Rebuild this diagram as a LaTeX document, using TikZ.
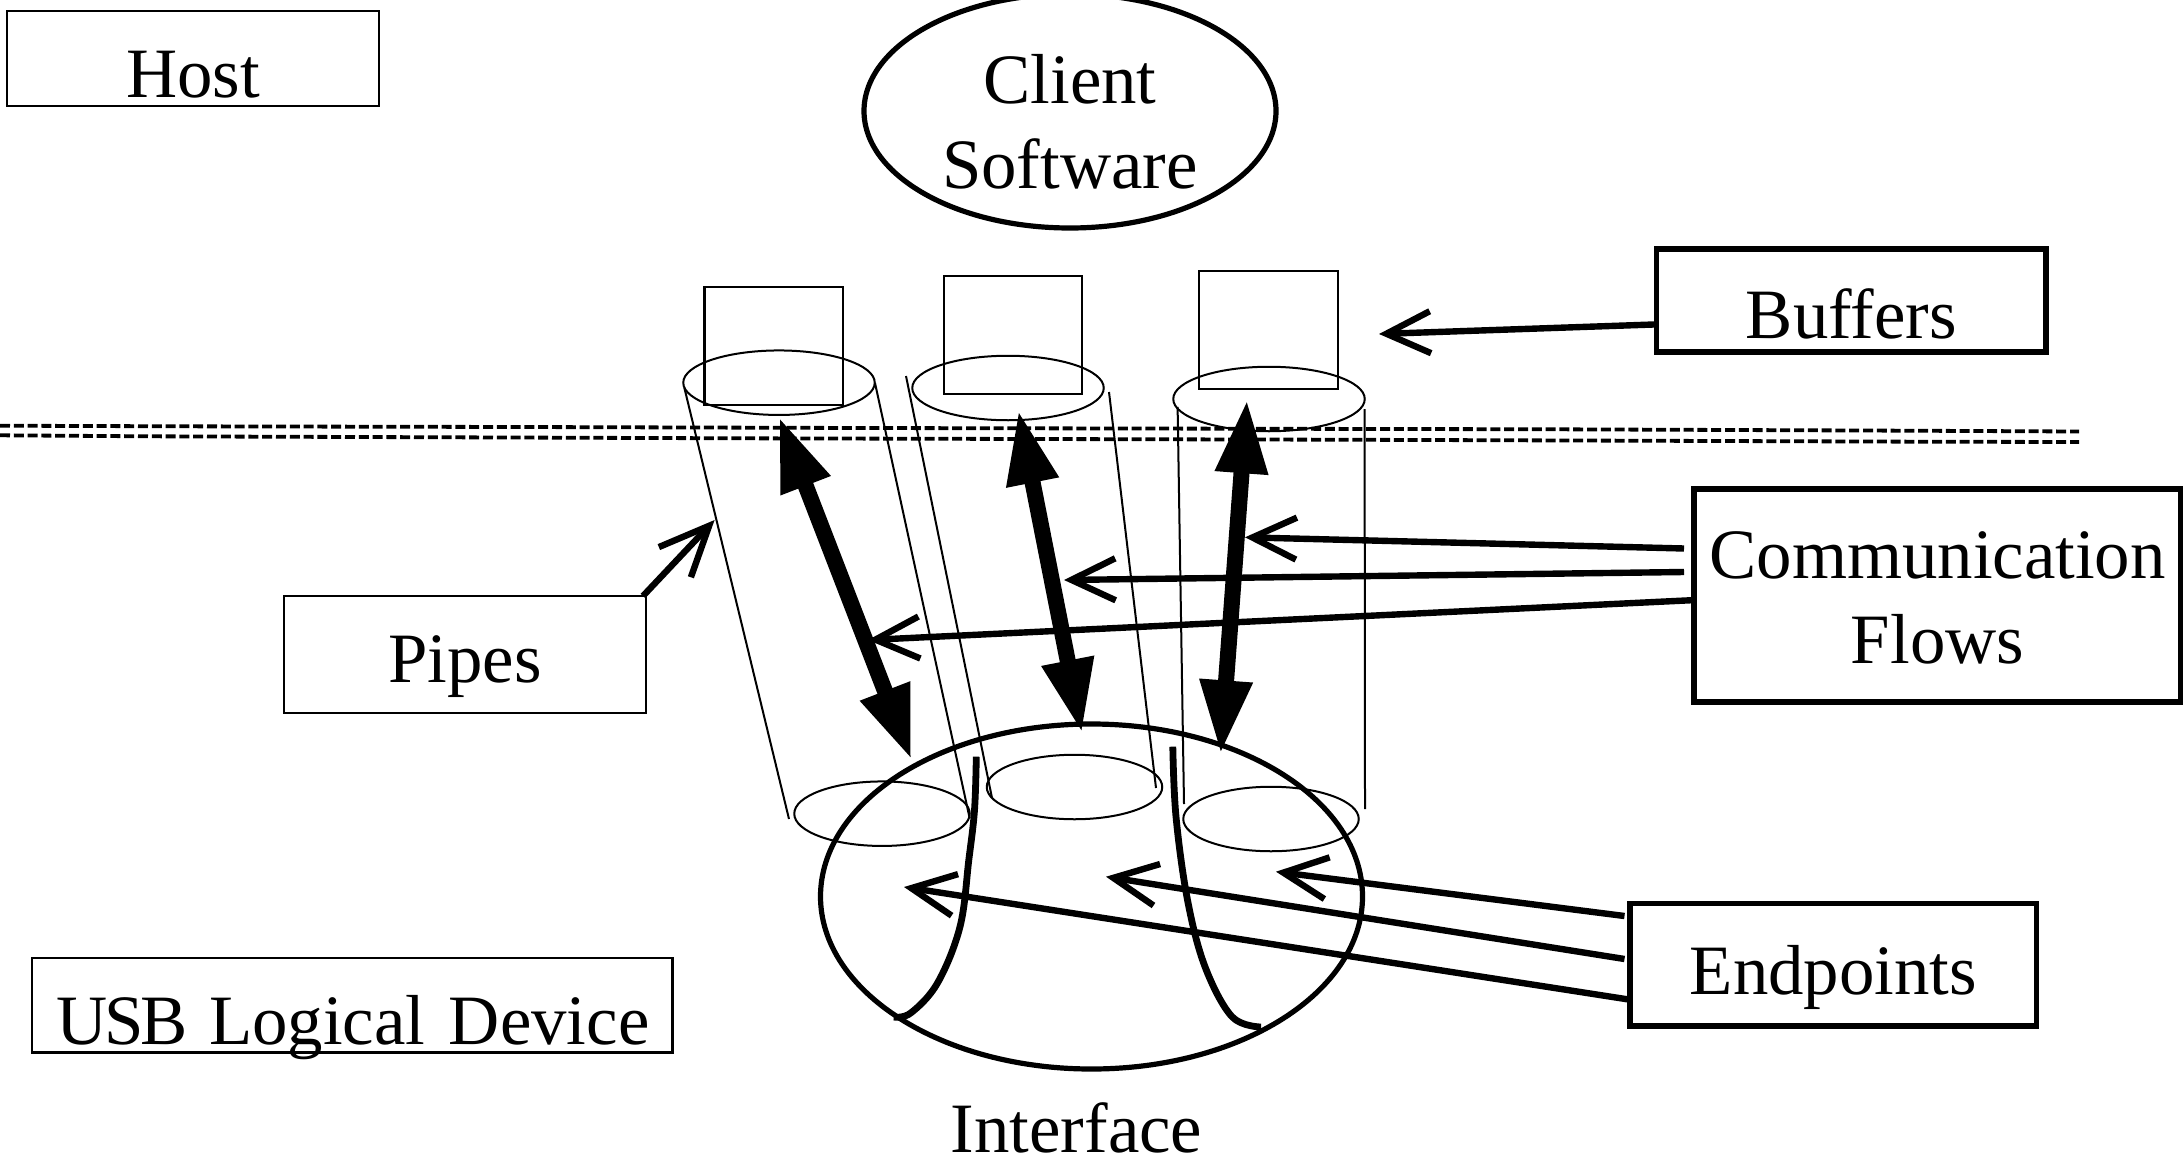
\documentclass[tikz,border=0pt]{standalone}
\usepackage{fontspec}
\setmainfont{Liberation Serif}
\usetikzlibrary{arrows.meta,shapes.geometric}
\tikzset{
  every node/.style={font=\fontsize{35.4}{42.5}\selectfont},
  thinbox/.style={draw,line width=1.1pt,inner sep=0pt,outer sep=0pt,anchor=north west,align=center},
  thickbox/.style={thinbox,line width=2.8pt},
  bufbox/.style={draw,line width=1.1pt,inner sep=0pt,outer sep=0pt,anchor=north west,minimum width=69.3pt,minimum height=59pt},
  thinell/.style={draw,ellipse,line width=1pt,inner sep=0pt,outer sep=0pt,minimum width=191.5*.5pt,minimum height=64.5*.5pt},
  lowell/.style={thinell,minimum width=175.5*.5pt},
  bigell/.style={draw,ellipse,line width=2.6pt,inner sep=0pt,outer sep=0pt,align=center},
  wall/.style={line width=1pt},
  sepline/.style={line width=1.9pt,dash pattern=on 5pt off 1.9pt},
  flow/.style={line width=8pt,{Triangle[length=37pt,width=24.5pt]}-{Triangle[length=37pt,width=24.5pt]}},
  pointer/.style={line width=3.2pt,-{Straight Barb[length=22pt,width=21pt]}},
  border/.style={line width=3.4pt},
}
\begin{document}
\begin{tikzpicture}[x=.5pt,y=-.5pt]
\useasboundingbox (0,0) rectangle (2183,1156);

% label boxes
\node[thinbox,text width=186pt,text height=43.25pt,text depth=4.25pt] (host) at (7,11) {Host};
\node[thinbox,text width=181pt,text height=43pt,text depth=15.5pt] (pipes) at (284,596) {Pipes};
\node[thinbox,text width=320.2pt,text height=43pt,text depth=4.25pt] (usb) at (32,958) {\hspace*{1pt}U\kern-1.8pt S\kern-1.8pt B\kern-1pt\ Logical Device};
\node[thickbox,text width=194.7pt,text height=44.5pt,text depth=7pt] (buffers) at (1656.6,249) {Buffers};
\node[thickbox,text width=243.5pt,text height=44.5pt,text depth=62pt] (comm) at (1694,489) {Communication\\Flows};
\node[thickbox,text width=203.3pt,text height=45.25pt,text depth=16pt] (endp) at (1630,903.5) {Endpoints};

% client software
\node[bigell,minimum width=206pt,minimum height=117pt,text height=77pt,text depth=0pt] (client) at (1070,111) {Client\\Software};

% host/device separator
\draw[sepline] (0,425.7) -- (175,426.3) -- (523,427) -- (863,428) -- (1556,429.3) -- (1908,430.7) -- (2079,431.5);
\draw[sepline] (0,435.3) -- (147,436.3) -- (449,437.3) -- (737,438.3) -- (1335,439.7) -- (1632,440.7) -- (1922,441.7) -- (2079,442);

% buffers
\node[bufbox] (b1) at (704.5,286.7) {};
\node[bufbox] (b2) at (943.7,276.3) {};
\node[bufbox] (b3) at (1199,270.7) {};

% pipe ends
\node[thinell] (t1) at (779,382.7) {};
\node[thinell] (t2) at (1008,388) {};
\node[thinell] (t3) at (1269,399) {};
\node[lowell] (l1) at (882,813.7) {};
\node[lowell] (l2) at (1074.5,787) {};
\node[lowell] (l3) at (1271,819) {};

% pipe walls
\coordinate (w1a) at (684.4,388); \coordinate (w1b) at (789,819);
\coordinate (w2a) at (875,383);   \coordinate (w2b) at (969.6,818);
\coordinate (w3a) at (906,376);   \coordinate (w3b) at (992,798);
\coordinate (w4a) at (1109,392);  \coordinate (w4b) at (1156,788);
\coordinate (w5a) at (1177.6,407);\coordinate (w5b) at (1184,804);
\coordinate (w6a) at (1364.6,409);\coordinate (w6b) at (1365,809);
\draw[wall] (w1a) -- (w1b);
\draw[wall] (w2a) -- (w2b);
\draw[wall] (w3a) -- (w3b);
\draw[wall] (w4a) -- (w4b);
\draw[wall] (w5a) -- (w5b);
\draw[wall] (w6a) -- (w6b);

% interface
\node[bigell,minimum width=271pt,minimum height=172.5pt] (iface) at (1091.5,896.5) {};
\draw[border] plot[smooth,tension=.6] coordinates {(976.3,756.7) (974.5,810) (968.8,860) (960,926.7) (937.5,983) (910.7,1013) (893.8,1017)};
\draw[border] plot[smooth,tension=.6] coordinates {(1172.8,746.7) (1176,816.7) (1187.5,900) (1205,966.7) (1232,1016.7) (1261,1027)};
\node[anchor=base,inner sep=0pt] (ifl) at (1076.5,1152) {Interface};

% communication flows
\coordinate (f1a) at (779,416.7);  \coordinate (f1b) at (911.6,760);
\coordinate (f2a) at (1018.3,410); \coordinate (f2b) at (1082,733.3);
\coordinate (f3a) at (1247,399.3); \coordinate (f3b) at (1220.6,754.3);
\draw[flow] (f1a) -- (f1b);
\draw[flow] (f2a) -- (f2b);
\draw[flow] (f3a) -- (f3b);

% pointers
\coordinate (pb) at (1379,334);
\coordinate (pp) at (714.6,520);
\coordinate (pc1) at (1245,537.3);
\coordinate (pc2) at (1064,580);
\coordinate (pc3) at (868,640);
\coordinate (pe1) at (1276,871.7);
\coordinate (pe2) at (1106,876.7);
\coordinate (pe3) at (904,887);
\coordinate (sb) at (1656.6,324.4);
\coordinate (sp) at (643,596);
\coordinate (sc1) at (1684,548.5);
\coordinate (sc2) at (1684,572);
\coordinate (sc3) at (1696,600);
\coordinate (se1) at (1624.5,916);
\coordinate (se2) at (1624.5,959);
\coordinate (se3) at (1628.7,999.5);
\draw[pointer] (sb) -- (pb);
\draw[pointer,-{Straight Barb[length=25pt,width=22pt]}] (sp) -- (pp);
\draw[pointer] (sc1) -- (pc1);
\draw[pointer] (sc2) -- (pc2);
\draw[pointer] (sc3) -- (pc3);
\draw[pointer] (se1) -- (pe1);
\draw[pointer] (se2) -- (pe2);
\draw[pointer] (se3) -- (pe3);
\end{tikzpicture}
\end{document}
